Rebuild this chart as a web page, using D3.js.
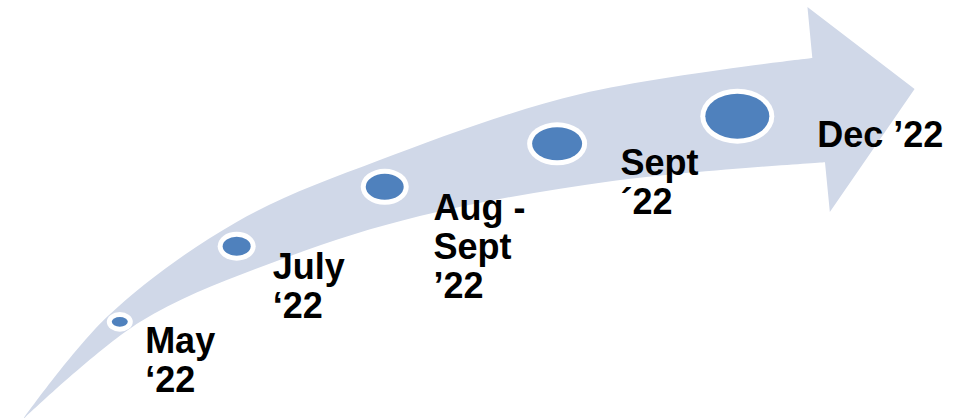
<!DOCTYPE html>
<html>
<head>
<meta charset="utf-8">
<script src="https://cdn.jsdelivr.net/npm/d3@7"></script>
<style>
  html, body { margin: 0; padding: 0; background: #fff; }
  svg { display: block; }
</style>
</head>
<body>
<script>
var width = 974,
    height = 418;

// Milestones (positions in percent of the drawing area)
var milestones = ["May ‘22", "July ‘22", "Aug - Sept ’22", "Sept ´22", "Dec ’22"];
var labelLines = [["May", "‘22"], ["July", "‘22"], ["Aug -", "Sept", "’22"], ["Sept", "´22"], ["Dec ’22"]];
var progress = [12.3, 24.3, 39.5, 57.2, 75.7];   // along the arrow
var level = [23.0, 41.1, 55.3, 65.6, 72.2];      // height on the arrow
var dotRx = [8, 14, 19, 25, 32];
var dotRy = [4.8, 9.5, 13, 16.5, 22.5];
var labelX = [14.9, 28.0, 44.5, 63.7, 83.9];
var labelY = [15.6, 33.3, 47.4, 58.1, 64.8];

// Arrow outline: upper edge, head, lower edge (percent units)
var upperEdge = [[2.3, -0.5], [11.0, 24.2], [24.3, 46.9], [39.0, 61.7], [59.6, 77.5], [83.4, 86.1]];
var arrowHead = [[82.9, 98.3], [93.9, 78.7], [85.2, 49.3]];
var lowerEdge = [[84.7, 61.2], [62.9, 56.7], [43.1, 48.3], [28.7, 37.8], [14.4, 23.0], [2.3, -0.5]];

var x = d3.scaleLinear().domain([0, 100]).range([0, width]),
    y = d3.scaleLinear().domain([0, 100]).range([height, 0]);

var svg = d3.select("body")
            .append("svg")
            .attr("width", width)
            .attr("height", height);

var edge = d3.line()
    .x(function(d) { return x(d[0]); })
    .y(function(d) { return y(d[1]); })
    .curve(d3.curveCatmullRom);

var headD = arrowHead.map(function(d) { return "L" + x(d[0]) + "," + y(d[1]); }).join("");

svg.append("path")
   .attr("d", edge(upperEdge) + headD + edge(lowerEdge).replace(/^M/, "L") + "Z")
   .attr("fill", "#d0d8e8")
   .attr("stroke", "none");

var dots = svg.append("g").selectAll("g")
    .data(milestones)
    .enter().append("g");

dots.append("ellipse")
    .attr("cx", function(d, i) { return x(progress[i]); })
    .attr("cy", function(d, i) { return y(level[i]); })
    .attr("rx", function(d, i) { return dotRx[i] + 5; })
    .attr("ry", function(d, i) { return dotRy[i] + 5; })
    .attr("fill", "#ffffff");

dots.append("ellipse")
    .attr("cx", function(d, i) { return x(progress[i]); })
    .attr("cy", function(d, i) { return y(level[i]); })
    .attr("rx", function(d, i) { return dotRx[i]; })
    .attr("ry", function(d, i) { return dotRy[i]; })
    .attr("fill", "#4f81bd");

var labels = svg.append("g").selectAll("text")
    .data(milestones)
    .enter().append("text")
    .attr("x", function(d, i) { return x(labelX[i]); })
    .attr("y", function(d, i) { return y(labelY[i]); })
    .attr("font-family", "Arial, 'Liberation Sans', sans-serif")
    .attr("font-weight", "bold")
    .attr("font-size", 36)
    .attr("fill", "#000");

labels.selectAll("tspan")
    .data(function(d, i) { return labelLines[i].map(function(t) { return { t: t, i: i }; }); })
    .enter().append("tspan")
    .attr("x", function(d) { return x(labelX[d.i]); })
    .attr("dy", function(d, j) { return j === 0 ? 0 : 39; })
    .text(function(d) { return d.t; });
</script>
</body>
</html>
